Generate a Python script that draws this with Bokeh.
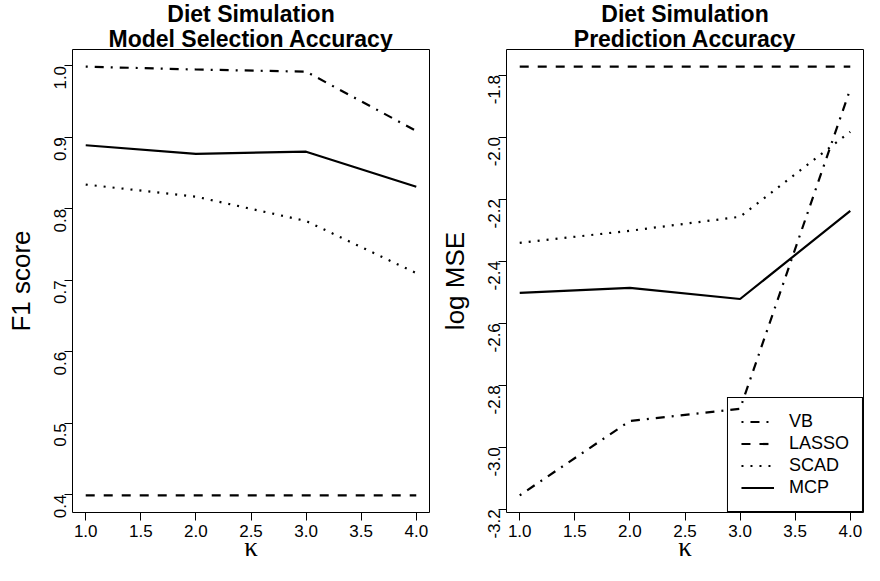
import math
from bokeh.plotting import figure
from bokeh.layouts import row
from bokeh.models import Range1d, FixedTicker, Legend, LegendItem, PrintfTickFormatter, Title
from bokeh.embed import file_html
from bokeh.resources import INLINE

# ---- data ----
kappa = [1, 2, 3, 4]

f1_vb = [0.999, 0.995, 0.992, 0.909]
f1_lasso = [0.399, 0.399, 0.399, 0.399]
f1_scad = [0.834, 0.817, 0.783, 0.710]
f1_mcp = [0.889, 0.877, 0.880, 0.831]

mse_vb = [-3.155, -2.915, -2.876, -1.845]
mse_lasso = [-1.773, -1.773, -1.773, -1.773]
mse_scad = [-2.341, -2.302, -2.257, -1.983]
mse_mcp = [-2.502, -2.486, -2.522, -2.238]

methods = ["VB", "LASSO", "SCAD", "MCP"]

x_ticks = [1.0, 1.5, 2.0, 2.5, 3.0, 3.5, 4.0]
x_tick_labels = ["1.0", "1.5", "2.0", "2.5", "3.0", "3.5", "4.0"]
f1_ticks = [0.4, 0.5, 0.6, 0.7, 0.8, 0.9, 1.0]
f1_tick_labels = ["0.4", "0.5", "0.6", "0.7", "0.8", "0.9", "1.0"]
mse_ticks = [-3.2, -3.0, -2.8, -2.6, -2.4, -2.2, -2.0, -1.8]
mse_tick_labels = ["-3.2", "-3.0", "-2.8", "-2.6", "-2.4", "-2.2", "-2.0", "-1.8"]

# ---- styling / layout ----
SANS = "Liberation Sans"
SERIF = "Liberation Serif"
DASHES = {"VB": "2 7 9 7", "LASSO": "9 9", "SCAD": "2 7", "MCP": "solid"}
LW = 2.2
H = 565
BOTTOM = 53


def padded(vals):
    lo, hi = min(vals), max(vals)
    pad = 0.04 * (hi - lo)
    return lo - pad, hi + pad


def make_panel(width, border_left, title_lines, ylabel, series, yticks, yticklabels, legend):
    allv = [v for s in series for v in s]
    p = figure(width=width, height=H, output_backend="svg", toolbar_location=None,
               title=None,
               x_range=Range1d(*padded(kappa)), y_range=Range1d(*padded(allv)),
               min_border_left=border_left, min_border_right=1,
               min_border_top=0, min_border_bottom=BOTTOM,
               x_axis_label="κ", y_axis_label=ylabel)
    p.background_fill_color = "white"
    p.border_fill_color = "white"
    p.outline_line_color = "black"
    p.outline_line_width = 1
    p.grid.visible = False

    # titles: first added sits closest to the frame
    for txt, so in zip(reversed(title_lines), [-4, -3]):
        p.add_layout(Title(text=txt, align="center", text_font=SANS, text_font_style="bold",
                           text_font_size="23px", text_color="black", standoff=so), "above")

    for ax in (p.xaxis[0], p.yaxis[0]):
        ax.axis_line_color = None
        ax.major_tick_line_color = "black"
        ax.major_tick_out = 8
        ax.major_tick_in = 0
        ax.minor_tick_line_color = None
        ax.major_label_text_font = SANS
        ax.major_label_text_font_size = "17px"
        ax.major_label_text_color = "black"
        ax.axis_label_text_font_style = "normal"
        ax.axis_label_text_color = "black"

    xa = p.xaxis[0]
    xa.ticker = FixedTicker(ticks=x_ticks)
    xa.formatter = PrintfTickFormatter(format="%.1f")
    xa.major_label_overrides = dict(zip(x_ticks, x_tick_labels))
    xa.major_label_standoff = 4
    xa.axis_label_text_font = SERIF
    xa.axis_label_text_font_size = "27px"
    xa.axis_label_standoff = -8

    ya = p.yaxis[0]
    ya.ticker = FixedTicker(ticks=yticks)
    ya.formatter = PrintfTickFormatter(format="%.1f")
    ya.major_label_overrides = dict(zip(yticks, yticklabels))
    ya.major_label_orientation = math.pi / 2
    ya.major_label_standoff = 4
    ya.axis_label_text_font = SANS
    ya.axis_label_text_font_size = "26px"
    ya.axis_label_standoff = 10

    items = []
    for name, ys in zip(methods, series):
        r = p.line(kappa, ys, line_color="black", line_width=LW, line_dash=DASHES[name])
        items.append(LegendItem(label=name, renderers=[r]))

    if legend:
        lg = Legend(items=items, location="bottom_right")
        lg.margin = 0
        lg.padding = 13
        lg.border_line_color = "black"
        lg.border_line_width = 1
        lg.border_line_alpha = 1
        lg.background_fill_alpha = 0
        lg.label_text_font = SANS
        lg.label_text_font_size = "18px"
        lg.label_text_color = "black"
        lg.glyph_width = 33
        lg.glyph_height = 21
        lg.label_height = 21
        lg.label_standoff = 15
        lg.spacing = 1
        p.add_layout(lg)
    return p


p1 = make_panel(430, 72, ["Diet Simulation", "Model Selection Accuracy"], "F1 score",
                [f1_vb, f1_lasso, f1_scad, f1_mcp], f1_ticks, f1_tick_labels, False)
p2 = make_panel(434, 76, ["Diet Simulation", "Prediction Accuracy"], "log MSE",
                [mse_vb, mse_lasso, mse_scad, mse_mcp], mse_ticks, mse_tick_labels, True)

layout = row(p1, p2)
open("out.html", "w").write(file_html(layout, INLINE))
